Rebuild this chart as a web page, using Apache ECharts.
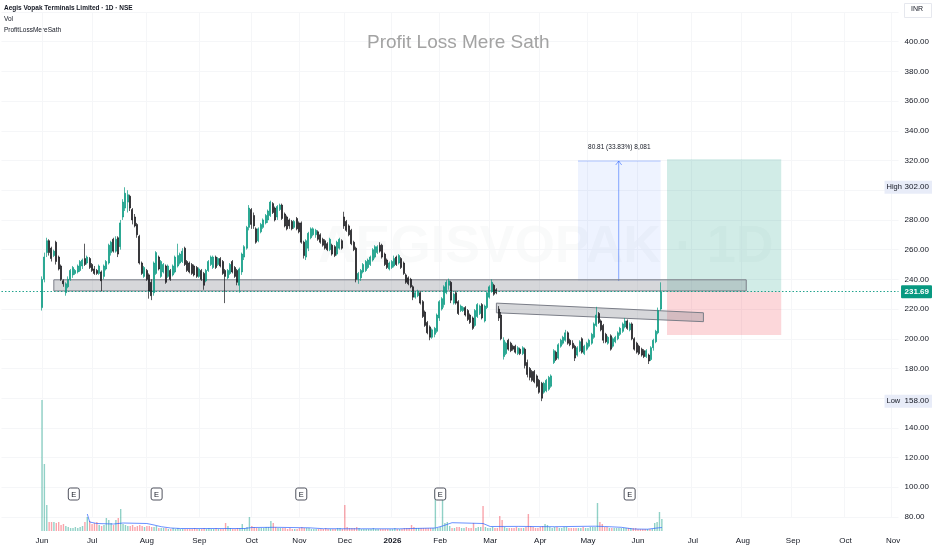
<!DOCTYPE html>
<html><head><meta charset="utf-8">
<script src="https://cdn.jsdelivr.net/npm/echarts@6/dist/echarts.min.js"></script>
<style>html,body{margin:0;padding:0;background:#fff}#c{width:932px;height:550px}</style>
</head><body><div id="c"></div>
<script>
// ---- bar-index range shown on the time scale ----
const FIRST = -17, LAST = 360;
// ---- month tick labels (bar index of first session of month) ----
const monthIdx   = [0,21,44,66,88,108,127,147,167,188,209,229,250,273,294,315,337,357];
const monthNames = ['Jun','Jul','Aug','Sep','Oct','Nov','Dec','2026','Feb','Mar','Apr','May','Jun','Jul','Aug','Sep','Oct','Nov'];
// ---- daily candles [open, close, low, high], bar index 0 = listing day ----
const ohlc = [
[221,240,219,242],[240,255,238,258],[258,266,255,268],[266,258,256,267],[261,254,252,262],
[256,259,255,260],[265,252,250,266],[255,247,246,256],[249,240,239,250],[239,237,235,240],
[231,237,229,238],[235,240,234,242],[240,246,239,247],[243,248,241,249],[244,246,243,247],
[245,249,244,250],[246,252,245,253],[249,253,247,254],[254,250,249,264],[251,255,250,256],
[254,248,247,255],[250,246,245,251],[247,244,243,249],[246,244,243,247],[244,249,243,250],
[245,239,232,246],[242,249,240,250],[247,252,246,253],[251,263,250,264],[258,265,256,266],
[267,259,258,268],[259,267,258,269],[268,257,255,269],[262,278,260,280],[282,292,280,294],
[288,298,286,302],[292,297,285,300],[296,288,286,297],[287,280,277,288],[282,276,275,284],
[277,270,268,278],[269,251,250,270],[251,244,243,252],[242,248,241,249],[246,240,239,247],
[243,232,227,244],[238,229,226,240],[231,251,229,252],[244,258,243,259],[255,247,246,256],
[242,252,241,253],[245,250,244,251],[249,238,237,250],[242,249,241,250],[246,240,239,247],
[243,249,242,250],[245,255,244,256],[249,256,248,264],[251,257,250,258],[252,259,251,261],
[261,250,249,262],[252,246,245,253],[251,245,244,252],[250,244,243,251],[249,243,242,250],
[248,242,241,249],[242,247,241,248],[246,240,239,247],[244,236,233,245],[239,246,238,247],
[246,252,245,253],[250,255,249,256],[248,255,247,256],[255,248,247,256],[250,254,249,255],
[254,249,248,255],[252,244,243,253],[246,242,224,247],[241,246,240,247],[244,250,243,251],
[252,245,244,253],[248,242,241,249],[246,238,236,247],[236,247,231,248],[245,257,243,258],
[255,262,253,263],[261,275,260,276],[275,288,273,290],[287,277,274,288],[283,276,274,285],
[274,265,264,275],[266,274,265,275],[272,277,271,278],[275,280,274,281],[278,283,277,284],
[280,286,278,287],[283,292,282,293],[291,285,284,292],[288,280,279,289],[282,289,280,290],
[287,290,286,291],[290,281,280,291],[284,276,275,285],[282,274,273,283],[280,276,274,281],
[279,274,273,280],[275,279,274,280],[281,274,273,282],[278,272,271,279],[278,265,264,279],
[265,256,254,266],[255,266,253,267],[261,271,259,272],[268,274,267,275],[270,274,269,275],
[270,273,268,274],[272,267,266,273],[270,265,264,271],[267,263,262,268],[266,261,260,267],
[264,260,259,265],[260,267,259,268],[263,257,256,264],[262,256,255,263],[257,265,256,266],
[261,267,260,268],[266,261,260,267],[282,276,274,285.5],[279,273,272,280],[276,270,269,277],
[273,264,263,274],[265,260,259,266],[261,240,238,262],[240,244,237,245],[241,246,239,247],
[245,250,244,251],[246,252,245,253],[248,253,247,254],[250,255,249,256],[253,260,252,261],
[255,262,254,263],[258,262,257,263],[263,259,258,265],[263,255,254,264],[257,250,249,258],
[253,248,247,254],[247,251,246,252],[248,252,247,253],[249,254,248,256],[255,250,249,256],
[251,256,250,257],[254,248,247,255],[251,244,243,252],[243,238,237,244],[241,237,236,242],
[240,235,234,241],[235,228,226,236],[228,231,227,232],[229,232,228,233],[231,224,223,232],
[225,215,214,226],[218,209,208,219],[211,204,203,212],[208,201,199,209],[201,206,200,207],
[203,207,201,208],[205,216,204,217],[214,225,212,226],[220,227,219,228],[223,235,221,236],
[231,238,230,239.5],[236,239,233,240.5],[238,226,224,239],[224,230,223,231],[231,224,223,232],
[225,217,216,226],[219,222,218,223],[219,221,218,222],[221,216,215,222],[219,213,212,220],
[216,211,210,217],[214,207,206,215],[209,219,208,220],[215,223,214,224],[217,222,216,223],
[223,214,213,224],[212,222,211,223],[221,231,220,232],[228,235,227,236],[232,238,231,240],
[236,230,229,237],[233,231,230,234],[220,214,212,222],[216,200,199,218],[188,199,186,201],
[190,197,189,198],[199,193,192,200],[197,192,191,198],[195,193,192,196],[195,191,190,196],
[190,194,189,195],[193,190,189,194],[190,194,189,195],[193,182,180,194],[184,176,174,186],
[180,174,172,181],[178,172,171,179],[178,171,170,179],[175,168,167,176],[172,164,163,173],
[170,160,158,171],[164,170,163,171],[165,172,164,173],[166,174,165,175],[168,175,167,176],
[184,192,183,193],[191,186,185,192],[187,196,186,197],[195,199,194,200],[197,201,196,202],
[199,204,198,206],[204,197,196,205],[199,196,195,200],[197,194,193,199],[195,187,185,196],
[189,194,188,195],[192,198,191,199],[200,191,190,201],[190,195,189,196],[193,197,192,198],
[195,199,194,200],[197,203,196,204],[201,210,200,211],[209,216,208,221.5],[217,211,210,218],
[212,206,205,213],[209,199,197,210],[203,198,197,204],[197,201,196,202],[202,193,192,203],
[195,200,194,201],[198,201,197,202],[200,204,199,205],[203,207,202,208],[205,210,204,211],
[208,212,207,214],[212,207,206,213],[206,210,205,211],[210,200,199,211],[200,193,192,201],
[197,191,190,198],[195,190,189,196],[193,189,188,194],[192,188,187,193],[188,192,187,193],
[189,185,183,190],[186,194,185,195],[194,199,192,200],[198,205,197,206],[204,219,203,221],
[220,231.69,219,238]
];
// ---- daily volume (relative units) ----
const volume = [
131,67,26,9,9,9,8,9,6,7,5,
4,3,3,4,3,4,5,9,14,10,
7,8,9,6,5,6,13,11,8,6,
11,13,22,7,6,5,5,6,4,5,
6,5,4,5,5,4,4,5,3,3,
3,3,2,2,3,2,3,2,2,2,
2,2,2,3,2,2,2,3,2,3,
2,2,3,2,2,2,8,5,3,2,
2,3,3,7,3,4,14,5,4,3,
3,3,3,4,4,10,8,4,3,3,
3,3,2,3,2,2,2,3,4,3,
3,3,2,2,2,2,2,2,3,2,
2,2,2,3,3,2,26,4,3,3,
3,4,3,2,2,2,2,2,3,2,
2,2,2,2,2,2,2,3,2,2,
2,3,3,3,6,4,3,3,3,3,
3,3,3,3,41,3,4,40,8,9,
5,3,3,4,4,3,3,4,3,3,
8,3,4,4,25,4,3,3,4,3,
3,15,11,4,3,3,3,3,4,3,
3,3,4,17,5,4,3,3,4,5,
7,6,4,3,4,4,3,3,4,4,
3,3,3,3,3,3,4,3,3,4,
4,4,28,9,7,4,4,3,3,3,
3,3,3,3,3,3,3,3,3,2,
2,2,2,2,2,2,8,9,19,12
];
// ---- volume moving average, read at sample bars [barIndex, value] ----
const volMA = [[19,17],[20,9],[23,7.5],[30,7],[34,8],[44,7.5],[47,6],[50,4.3],[54,3],[58,2.5],
[85,2.5],[88,3.5],[98,3.7],[112,3.2],[118,2.3],[134,2.2],[150,2.2],[165,3],[168,5],[172,8.3],
[180,7.8],[185,7.5],[188,4.5],[200,4.6],[215,4.3],[232,4.8],[236,4.5],[243,3.7],[248,2],[254,1.8],[258,3],[260,3.5]];
// ---- drawings (bar index / price anchors) ----
const zone = {from:5, to:296, top:239.7, bottom:232.2};
const channel = {from:191, to:278, topL:224.0, botL:217.5, topR:217.5, botR:211.5};
const measure = {from:225.3, to:260, low:238.87, high:319.68, arrowAt:242.4, label:'80.81 (33.83%) 8,081'};
const position = {from:262.7, to:310.7, entry:231.69, target:320.8, stop:202.5};
const lastPrice = 231.69;
const highLow = [['High',302.00],['Low',158.00]];
const earnings = [13.4, 48.2, 109, 167.4, 247];

const OFF = -FIRST;
const categories = [];
for (let i = FIRST; i <= LAST; i++) categories.push(String(i));
const monthSet = new Set(monthIdx);

const UP = '#089981', DOWN = '#16161a';
const candleData = ohlc.map((d, i) => [i + OFF, d[0], d[1], d[2], d[3]]);
const volData = volume.map((v, i) => {
  const up = ohlc[i][1] >= ohlc[i][0];
  return {value: [i + OFF, v], itemStyle: {color: up ? 'rgba(8,153,129,0.45)' : 'rgba(242,54,69,0.45)'}};
});
const maData = volMA.map(d => [d[0] + OFF, d[1]]);

const FONT = 'Liberation Sans, Arial, sans-serif';

function renderDrawings(params, api) {
  const P = (x, y) => api.coord([x, y]);
  const rect = (x1, y1, x2, y2, style) => {
    const a = P(x1, y1), b = P(x2, y2);
    return {type: 'rect', shape: {x: Math.min(a[0], b[0]), y: Math.min(a[1], b[1]),
      width: Math.abs(b[0] - a[0]), height: Math.abs(b[1] - a[1])}, style: style};
  };
  const ch = [];
  ch.push(rect(position.from, position.target, position.to, position.entry, {fill: 'rgba(8,153,129,0.19)'}));
  ch.push(rect(position.from, position.entry, position.to, position.stop, {fill: 'rgba(242,54,69,0.2)'}));
  ch.push(rect(measure.from, measure.high, measure.to, measure.low, {fill: 'rgba(41,98,255,0.08)'}));
  const t1 = P(measure.from, measure.high), t2 = P(measure.to, measure.high);
  ch.push({type: 'line', shape: {x1: t1[0], y1: t1[1], x2: t2[0], y2: t2[1]}, style: {stroke: 'rgba(41,98,255,0.35)', lineWidth: 1}});
  const a1 = P(measure.arrowAt, measure.low), a2 = P(measure.arrowAt, measure.high);
  ch.push({type: 'line', shape: {x1: a1[0], y1: a1[1], x2: a2[0], y2: a2[1]}, style: {stroke: 'rgba(41,98,255,0.55)', lineWidth: 1}});
  ch.push({type: 'polyline', shape: {points: [[a2[0] - 3, a2[1] + 4], [a2[0], a2[1]], [a2[0] + 3, a2[1] + 4]]}, style: {stroke: 'rgba(41,98,255,0.55)', fill: null, lineWidth: 1}});
  ch.push({type: 'text', style: {text: measure.label, x: (t1[0] + t2[0]) / 2, y: t1[1] - 14, fill: '#131722',
    font: '6.5px ' + FONT, textAlign: 'center', textVerticalAlign: 'middle', align: 'center', verticalAlign: 'middle'}});
  ch.push(rect(zone.from, zone.top, zone.to, zone.bottom, {fill: 'rgba(120,123,134,0.3)', stroke: '#7b7e88', lineWidth: 1}));
  const c1 = P(channel.from, channel.topL), c2 = P(channel.to, channel.topR), c3 = P(channel.to, channel.botR), c4 = P(channel.from, channel.botL);
  ch.push({type: 'polygon', shape: {points: [c1, c2, c3, c4]}, style: {fill: 'rgba(120,123,134,0.3)', stroke: '#7b7e88', lineWidth: 1}});
  return {type: 'group', children: ch};
}

function renderLabels(params, api) {
  const P = (x, y) => api.coord([x, y]);
  const xr = P(LAST, 0)[0];
  const W = api.getWidth();
  const ch = [];
  const txt = (t, x, y, fill, font, al) => ({type: 'text', style: {text: t, x: x, y: y, fill: fill, font: font,
    textAlign: al || 'left', align: al || 'left', textVerticalAlign: 'middle', verticalAlign: 'middle'}});
  highLow.forEach(h => {
    const y = P(0, h[1])[1];
    ch.push({type: 'rect', shape: {x: xr - 14, y: y - 6.5, width: W - xr + 14, height: 13}, style: {fill: '#e8ecf8'}});
    ch.push(txt(h[0], xr - 12, y, '#131722', '7.5px ' + FONT));
    ch.push(txt(h[1].toFixed(2), xr + 6, y, '#131722', '8px ' + FONT));
  });
  const yl = P(0, lastPrice)[1];
  ch.push({type: 'rect', shape: {x: xr + 2.5, y: yl - 6.5, width: W - xr - 2.5, height: 13, r: 1}, style: {fill: UP}});
  ch.push(txt(lastPrice.toFixed(2), xr + 6, yl, '#ffffff', 'bold 8px ' + FONT));
  earnings.forEach(e => {
    const x = P(e, 0)[0];
    ch.push({type: 'rect', shape: {x: x - 5.5, y: 488, width: 11, height: 12, r: 2}, style: {fill: '#ffffff', stroke: '#50535e', lineWidth: 1}});
    ch.push(txt('E', x, 494.5, '#131722', '7.5px ' + FONT, 'center'));
  });
  return {type: 'group', children: ch};
}

const chart = echarts.init(document.getElementById('c'), null, {renderer: 'canvas'});
chart.setOption({
  animation: false,
  backgroundColor: '#ffffff',
  textStyle: {fontFamily: FONT},
  grid: [
    {left: 1.47, right: 31.73, top: 12, bottom: 33},
    {left: 1.47, right: 31.73, top: 395, bottom: 19}
  ],
  xAxis: [
    {type: 'category', gridIndex: 0, data: categories, boundaryGap: false,
     axisLine: {show: false}, axisTick: {show: false}, axisLabel: {show: false},
     splitLine: {show: true, interval: (i, v) => monthSet.has(+v), lineStyle: {color: '#f5f6f8', width: 1}}},
    {type: 'category', gridIndex: 1, data: categories, boundaryGap: false,
     axisLine: {show: false}, axisTick: {show: false}, splitLine: {show: false},
     axisLabel: {show: true, interval: (i, v) => monthSet.has(+v), margin: 6, fontSize: 8, color: '#131722',
       formatter: v => { const n = monthNames[monthIdx.indexOf(+v)]; return n === '2026' ? '{b|2026}' : n; },
       rich: {b: {fontWeight: 'bold', fontSize: 8, color: '#131722'}}}},
    {type: 'value', gridIndex: 0, min: FIRST, max: LAST, show: false}
  ],
  yAxis: [
    {type: 'value', gridIndex: 0, position: 'right', min: 80, max: 420, interval: 20,
     axisLine: {show: false}, axisTick: {show: false},
     axisLabel: {margin: 6, fontSize: 8, color: '#131722', formatter: v => v >= 420 ? '' : v.toFixed(2)},
     splitLine: {show: true, lineStyle: {color: '#f5f6f8'}}},
    {type: 'value', gridIndex: 1, min: 0, max: 136, show: false}
  ],
  graphic: [
    {type: 'text', left: 4, top: 5, style: {text: 'Aegis Vopak Terminals Limited · 1D · NSE', fill: '#131722', font: 'bold 6.5px ' + FONT}},
    {type: 'text', left: 4, top: 16, style: {text: 'Vol', fill: '#131722', font: '6.5px ' + FONT}},
    {type: 'text', left: 4, top: 27, style: {text: 'ProfitLossMereSath', fill: '#131722', font: '6.5px ' + FONT}},
    {type: 'text', left: 367, top: 33, style: {text: 'Profit Loss Mere Sath', fill: '#a3a3a3', font: '19px ' + FONT}, z: 1},
    {type: 'text', left: 318, top: 222, style: {text: 'AEGISVOPAK · 1D', fill: 'rgba(19,23,34,0.022)', font: 'bold 52px ' + FONT}, z: 0},
    {type: 'rect', left: 904, top: 3, shape: {width: 27, height: 14}, style: {fill: '#fff', stroke: '#e6e8ee'}},
    {type: 'text', left: 911, top: 6, style: {text: 'INR', fill: '#131722', font: '7px ' + FONT}}
  ],
  series: [
    {type: 'custom', name: 'drawings', xAxisIndex: 2, yAxisIndex: 0, data: [[0, 0]], renderItem: renderDrawings, z: 1, silent: true, clip: false},
    {type: 'candlestick', name: 'price', xAxisIndex: 0, yAxisIndex: 0, data: candleData,
     dimensions: ['x', 'open', 'close', 'lowest', 'highest'], encode: {x: 0, y: [1, 2, 3, 4]},
     barWidth: 1.5, z: 3,
     itemStyle: {color: UP, color0: DOWN, borderColor: UP, borderColor0: DOWN, borderWidth: 0.7},
     markLine: {symbol: 'none', silent: true, label: {show: false},
       lineStyle: {type: [1.5, 2], color: UP, width: 1, opacity: 0.9}, data: [{yAxis: lastPrice}]}},
    {type: 'bar', name: 'volume', xAxisIndex: 1, yAxisIndex: 1, data: volData, barWidth: 1.4, z: 2},
    {type: 'line', name: 'volMA', xAxisIndex: 1, yAxisIndex: 1, data: maData, showSymbol: false,
     lineStyle: {color: 'rgba(41,98,255,0.7)', width: 1}, z: 2},
    {type: 'custom', name: 'labels', xAxisIndex: 2, yAxisIndex: 0, data: [[0, 0]], renderItem: renderLabels, z: 10, silent: true, clip: false}
  ]
});
</script>
</body></html>
